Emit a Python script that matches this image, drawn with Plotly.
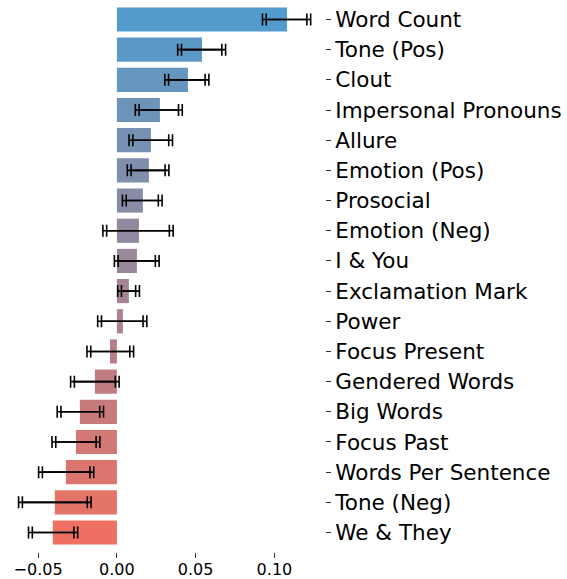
import plotly.graph_objects as go

categories = ["Word Count", "Tone (Pos)", "Clout", "Impersonal Pronouns", "Allure",
              "Emotion (Pos)", "Prosocial", "Emotion (Neg)", "I & You", "Exclamation Mark",
              "Power", "Focus Present", "Gendered Words", "Big Words", "Focus Past",
              "Words Per Sentence", "Tone (Neg)", "We & They"]
values = [0.108, 0.054, 0.0451, 0.0273, 0.0216, 0.0203, 0.0165, 0.0140, 0.0127, 0.0076,
          0.0038, -0.0044, -0.0140, -0.0235, -0.0260, -0.0324, -0.0394, -0.0407]
err_centers = [0.1077, 0.0538, 0.0444, 0.0266, 0.0215, 0.0198, 0.0161, 0.0134, 0.0126, 0.0074,
               0.0034, -0.0042, -0.0140, -0.0232, -0.0260, -0.0322, -0.0394, -0.0405]
errors = [0.0141, 0.0140, 0.0128, 0.0137, 0.0126, 0.0120, 0.0114, 0.0211, 0.0130, 0.0057,
          0.0144, 0.0136, 0.0142, 0.0135, 0.0140, 0.0163, 0.0218, 0.0144]
x_ticks = [-0.05, 0.0, 0.05, 0.10]
x_tick_labels = ["\u22120.05", "0.00", "0.05", "0.10"]

start = (82, 155, 204)
end = (237, 112, 98)
n = len(categories)
colors = []
for i in range(n):
    t = i / (n - 1)
    c = tuple(round(start[k] + (end[k] - start[k]) * t) for k in range(3))
    colors.append("rgb(%d,%d,%d)" % c)

yfont = dict(family="DejaVu Sans", size=21.5, color="black")
xfont = dict(family="DejaVu Sans", size=16, color="black")

fig = go.Figure()
fig.add_trace(go.Bar(
    x=values, y=categories, orientation="h",
    marker=dict(color=colors, line=dict(width=0)),
    width=0.8, showlegend=False, hoverinfo="x+y",
))
# double caps as in the reference
cap_offset = 0.0012
for sign in (1, -1):
    fig.add_trace(go.Scatter(
        x=err_centers, y=categories, mode="markers",
        marker=dict(size=0.1, color="black", opacity=0),
        error_x=dict(type="data", array=[e + sign * cap_offset for e in errors],
                     visible=True, color="black", thickness=1.6, width=6),
        showlegend=False, hoverinfo="skip",
    ))

fig.update_layout(
    width=567, height=579,
    margin=dict(l=6, r=242, t=0, b=27, autoexpand=False),
    plot_bgcolor="white", paper_bgcolor="white",
    font=yfont,
)
fig.update_xaxes(
    range=[-0.0704, 0.1321],
    tickvals=x_ticks, ticktext=x_tick_labels,
    ticks="outside", ticklen=5, tickwidth=1, tickcolor="#333",
    showgrid=False, zeroline=False, showline=False,
    tickfont=xfont, automargin=False,
    ticklabelstandoff=-2,
)
fig.update_yaxes(
    categoryorder="array", categoryarray=categories,
    range=[n - 1 + 0.645, -0.645],
    side="right",
    ticks="outside", ticklen=5, tickwidth=1, tickcolor="#333",
    showgrid=False, zeroline=False, showline=False,
    tickfont=yfont, automargin=False,
    ticklabelstandoff=0,
)

fig.write_html("out.html", config={"displayModeBar": False},
               post_script="document.body.style.margin='0';document.body.style.padding='0';")
